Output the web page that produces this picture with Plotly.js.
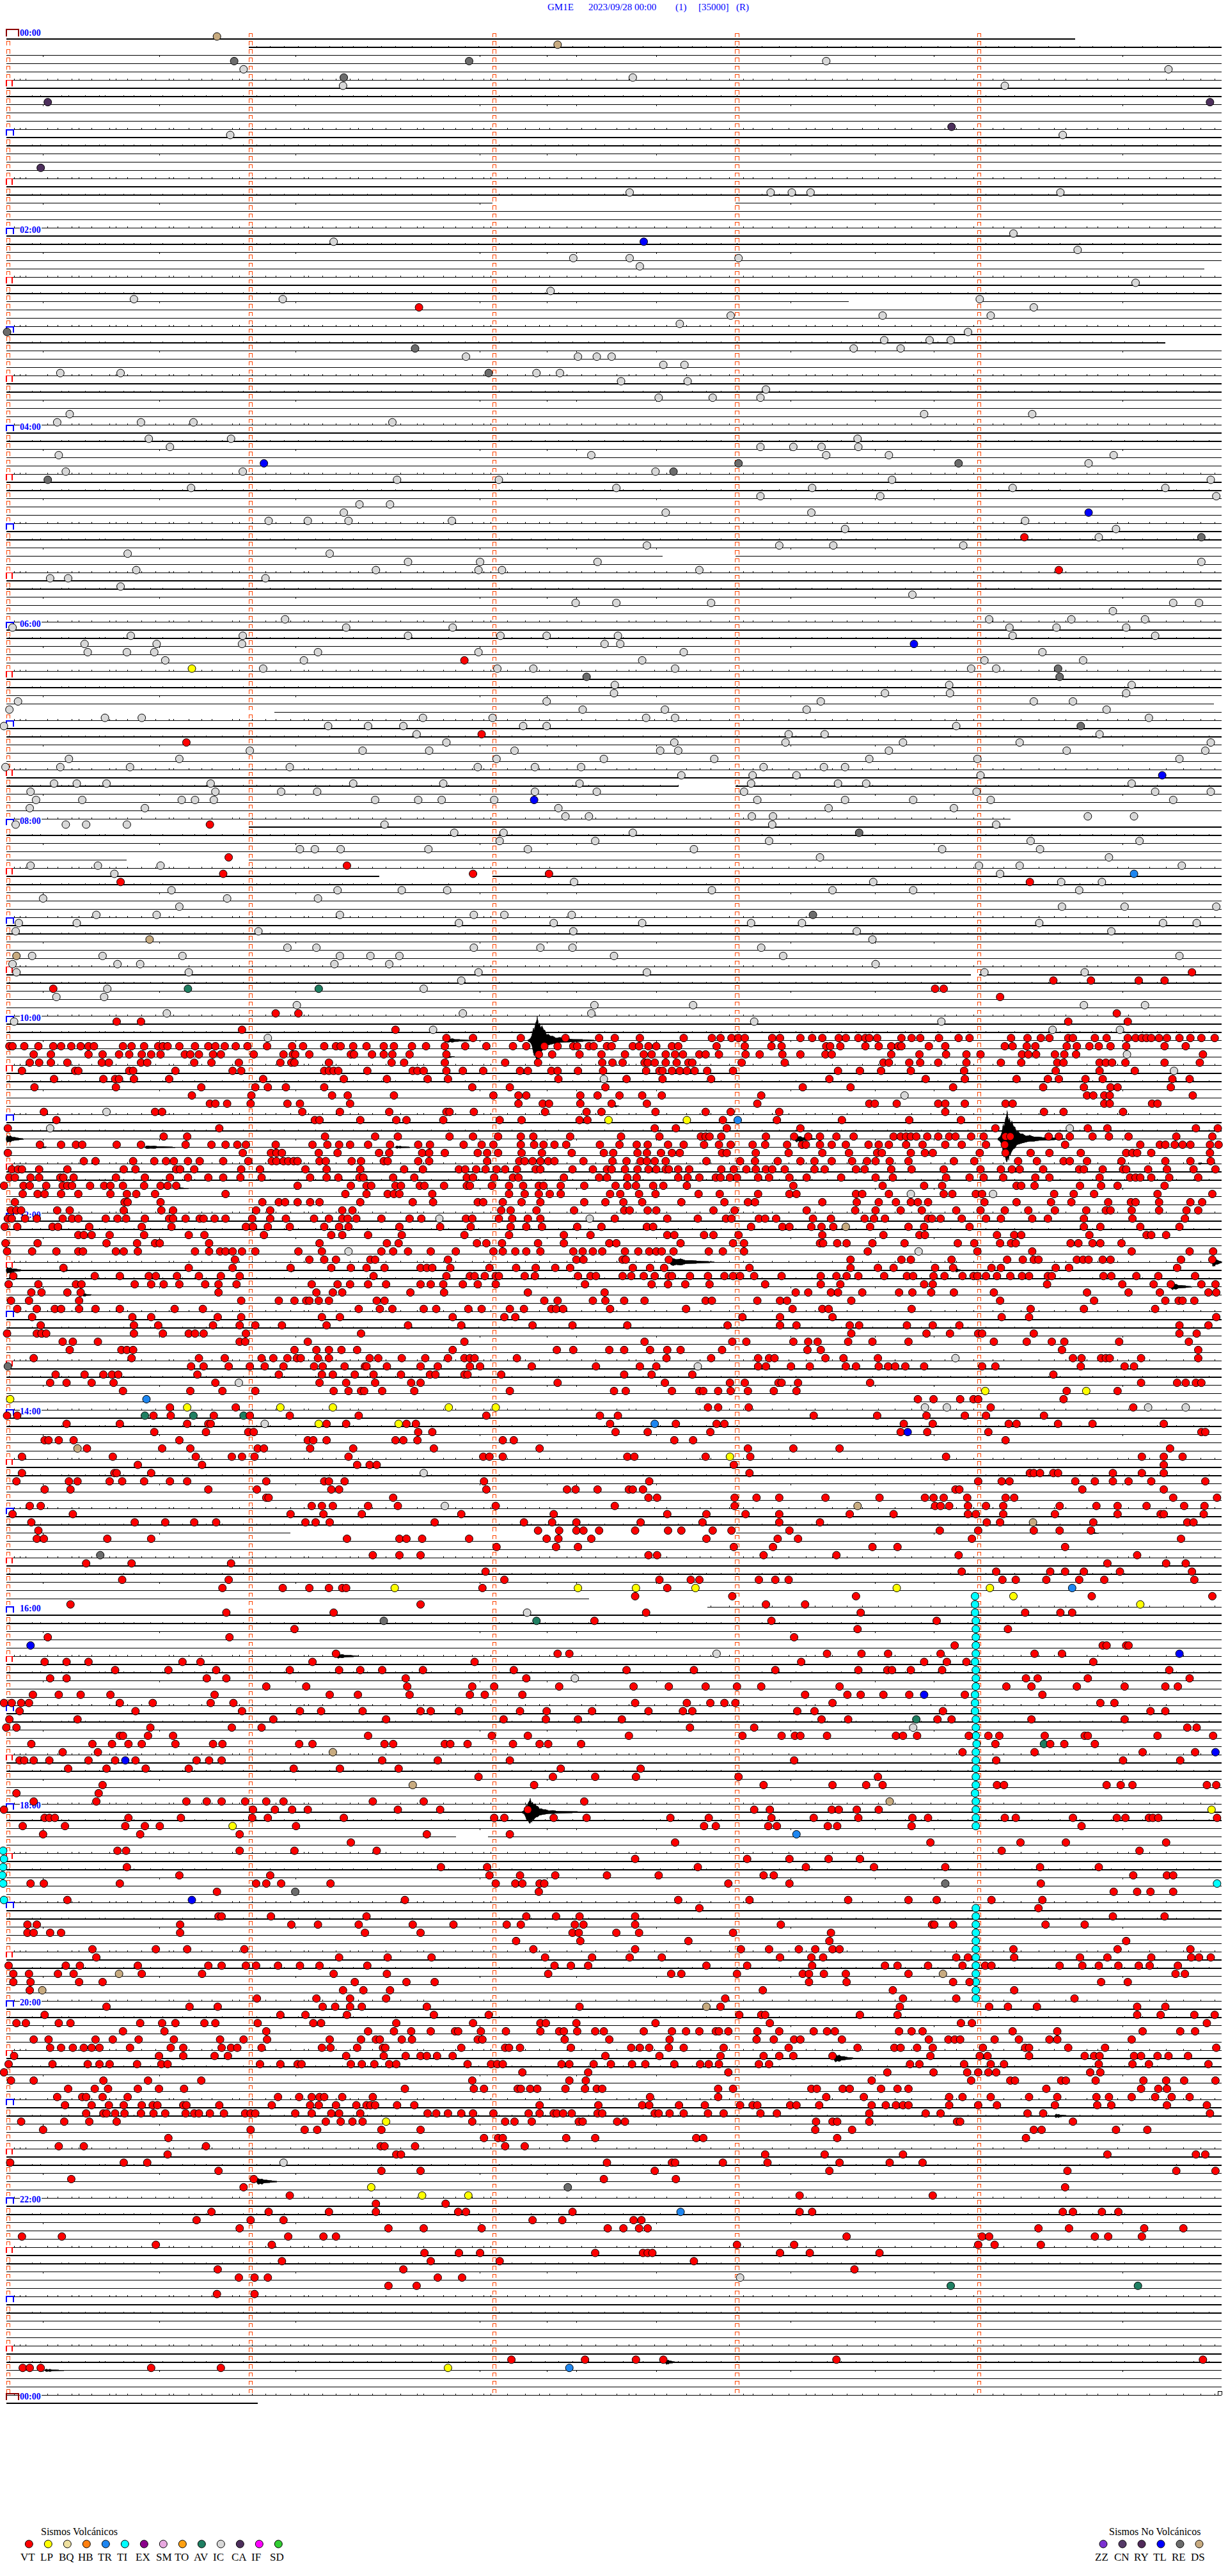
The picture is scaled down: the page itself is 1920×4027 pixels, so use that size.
<!DOCTYPE html>
<html><head><meta charset="utf-8">
<script src="https://cdn.plot.ly/plotly-3.0.1.min.js"></script>
<style>html,body{margin:0;padding:0;background:#fff}#c{position:absolute;left:0;top:0;width:1920px;height:4027px}.js-line{shape-rendering:crispEdges}</style>
</head><body><div id="c"></div><script>
// Each event table row: [trace row (5 min per row), position along the row...]; position unit: 310 = 1 minute
const VT_events=[[33,535],[61,1308],[65,1352],[76,593],[85,615],[86,238],[96,268],[100,292],[101,443],[102,285,604,701],[103,154,1315],[114,1522],[115,1345,1393,1454,1487],[116,68,1194,1205],[117,1277],[119,352,381,1426],[120,149,180,1364,1440],[121,309,505],
[122,570,604,665,722,765,785,817,873,909,920,934,943,951,986,996,1022,1037,1050,1071,1080,1096,1105,1110,1120,1151,1164,1175,1199,1224,1238,1291,1312,1329,1340,1364,1370,1398,1413,1440,1450,1458,1464,1470,1480,1490,1506,1520,1534,1551],
[123,12,16,31,49,68,78,91,103,113,120,157,168,184,202,208,214,229,249,266,275,287,301,316,341,373,387,414,429,435,451,468,490,503,526,544,568,594,621,655,672,695,712,732,737,752,758,775,781,808,816,828,838,858,866,915,951,985,998,1055,1060,1073,1105,1122,1138,1147,1151,1186,1207,1283,1293,1311,1322,1362,1375,1391,1403,1418,1438,1487,1514],
[124,43,65,113,131,152,165,181,193,205,236,243,254,272,282,324,362,374,377,395,448,452,475,490,501,523,570,688,705,740,768,798,822,832,850,862,872,893,901,918,952,970,999,1022,1054,1062,1138,1174,1208,1234,1252,1305,1313,1323,1347,1359,1374,1536],
[125,38,50,65,86,130,139,180,188,248,270,305,358,372,376,420,500,516,568,645,687,769,782,795,823,827,836,850,864,879,884,947,1002,1128,1135,1161,1175,1198,1234,1278,1304,1350,1358,1404,1412,1420,1437,1487,1532],
[126,28,96,100,165,170,224,297,308,414,420,426,432,469,527,533,541,570,591,617,664,674,704,712,738,770,825,842,846,858,868,877,887,903,936,1070,1098,1125,1163,1231,1348,1404,1449],
[127,69,132,147,152,171,216,336,439,494,546,572,713,800,846,908,1059,1182,1232,1298,1338,1352,1386,1408,1497,1519],
[128,44,148,257,326,342,365,414,603,651,773,1025,1086,1217,1332,1384,1418,1427,1495],
[129,245,321,424,444,503,630,662,672,741,763,791,820,845,972,1388,1396,1410,1417,1523],
[130,268,275,290,320,367,383,447,662,693,701,741,781,826,967,1110,1117,1145,1198,1207,1232,1284,1293,1410,1417,1471,1478],
[131,56,198,207,386,434,497,570,574,605,696,749,768,837,901,933,995,1207,1333,1358,1434],
[132,72,402,408,460,506,519,566,638,666,740,750,923,992,1075,1161,1227],
[133,10,280,836,863,928,1022,1271,1389,1414,1527,1555],
[134,209,239,415,479,508,574,604,636,665,681,728,793,842,895,901,906,921,978,1014,1032,1047,1068,1090,1141,1150,1157,1163,1170,1184,1198,1212,1220,1240,1256,1284,1290,1339,1352,1366,1395,1416,1441,1502,1548],
[135,51,78,97,105,149,180,237,270,288,303,314,352,399,418,433,447,470,498,534,549,592,615,630,665,682,694,708,723,766,791,813,827,853,873,899,918,933,961,977,1005,1024,1029,1047,1062,1080,1109,1122,1135,1157,1178,1207,1228,1259,1283,1360,1456,1481,1488,1500,1510,1520,1545,1556],
[136,10,310,346,353,360,407,431,484,497,539,548,568,610,622,636,666,692,730,771,783,814,826,844,858,868,922,928,965,1007,1050,1084,1120,1126,1163,1181,1191,1251,1284,1316,1340,1380,1438,1446,1452,1470,1545],
[137,107,122,170,197,212,222,240,255,285,317,347,353,362,368,375,380,408,416,449,461,490,495,534,548,622,663,670,680,690,700,708,745,782,800,818,826,836,850,902,945,964,993,1022,1040,1062,1088,1107,1118,1136,1160,1218,1244,1300,1324,1358,1366,1388,1432,1488,1520,1546],
[138,15,23,28,50,86,158,173,225,230,248,308,332,390,417,460,516,540,586,594,608,620,634,645,660,684,690,731,757,775,781,798,814,828,838,850,854,866,880,921,937,953,965,978,986,1002,1040,1053,1093,1104,1138,1164,1205,1252,1278,1292,1302,1332,1378,1384,1408,1434,1438,1466,1490,1524,1552],
[139,12,19,39,50,77,81,94,148,185,217,240,266,285,307,334,396,417,432,459,464,502,529,596,604,631,655,662,720,765,775,801,813,866,878,893,914,920,932,941,968,982,1008,1030,1074,1118,1140,1208,1238,1256,1281,1322,1340,1404,1443,1450,1456,1470,1493,1530],
[140,5,30,38,59,80,86,92,115,133,141,157,184,205,214,225,380,448,468,474,505,512,536,542,567,596,600,628,650,668,688,694,716,746,786,801,812,834,847,877,1013,1127,1180,1203,1298,1304,1321,1379,1406,1427,1487],
[141,29,48,57,78,100,141,162,174,198,288,441,468,495,503,510,552,650,670,688,702,716,779,792,816,837,892,919,968,1008,1017,1093,1101,1135,1205,1216,1246,1254,1346,1371,1397,1478,1548],
[142,19,159,163,205,335,356,364,380,396,408,460,527,553,610,617,642,666,690,746,773,796,820,870,925,955,964,1050,1094,1122,1144,1163,1172,1185,1257,1298,1342,1368,1415,1444,1450,1480,1520,1535],
[143,14,21,27,73,89,158,206,221,327,345,437,450,640,652,685,733,797,804,827,838,911,938,1030,1092,1118,1150,1177,1221,1252,1283,1313,1347,1387,1412,1418,1445,1480,1515,1530],
[144,10,15,32,47,80,92,100,135,150,161,185,216,221,237,255,260,274,288,322,345,365,401,420,437,444,455,487,523,538,595,603,637,654,674,690,785,852,891,927,934,969,977,991,1038,1061,1104,1116,1130,1185,1190,1201,1228,1259,1278,1318,1338,1384,1446,1513],
[145,6,22,67,74,114,181,219,314,323,342,370,414,433,445,510,562,601,652,672,692,737,768,826,834,959,999,1008,1036,1049,1064,1111,1160,1180,1238,1384,1405,1456,1506],
[146,100,107,117,140,184,241,261,337,423,437,470,513,593,650,720,754,852,861,899,911,943,1050,1128,1174,1181,1273,1295,1304,1391,1464,1470,1489],
[147,7,48,136,175,198,204,267,408,494,509,609,621,641,687,720,778,787,869,936,950,1047,1051,1069,1081,1114,1155,1223,1244,1277,1291,1297,1367,1377,1395,1405,1432],
[148,9,41,72,100,106,148,158,176,249,267,281,288,297,309,326,381,411,487,502,521,550,582,630,642,658,672,690,732,744,757,769,798,815,829,838,845,860,905,923,950,1108,1248,1318,1445,1519,1549],
[149,300,395,414,429,473,479,572,736,745,795,799,854,1086,1151,1163,1215,1286,1306,1320,1326,1375,1383,1390,1408,1418,1508,1548],
[150,81,241,297,371,423,448,468,491,537,545,552,575,625,659,684,709,728,808,830,848,957,1086,1121,1141,1194,1217,1266,1278,1348,1365,1503],
[151,17,121,153,190,199,226,254,282,306,477,570,600,606,619,633,637,670,683,738,754,761,795,806,822,836,854,858,881,904,925,936,945,963,998,1048,1068,1081,1096,1129,1158,1166,1192,1206,1229,1243,1248,1259,1273,1290,1305,1314,1338,1343,1409,1419,1451,1479,1526],
[152,11,49,97,104,172,193,209,229,262,279,302,398,431,447,470,493,537,550,566,591,610,633,747,832,853,875,906,977,1048,1073,1180,1191,1337,1433,1473,1495,1534,1552],
[153,40,53,86,103,279,404,425,437,524,567,674,772,1016,1032,1061,1070,1101,1148,1165,1189,1218,1269,1388,1441,1481,1543,1553],
[154,14,37,101,308,356,376,391,395,407,420,481,491,695,712,757,773,797,823,901,909,967,996,1005,1087,1277,1397,1488,1505,1510,1525],
[155,22,47,70,78,101,122,153,223,259,458,485,501,541,557,598,615,651,669,704,710,719,779,876,1012,1050,1058,1164,1316,1384,1475],
[156,41,169,193,278,308,411,434,578,644,658,948,996,1063,1279,1314,1553],
[157,52,171,202,272,306,326,360,417,521,589,680,731,801,929,996,1017,1085,1097,1158,1191,1225,1506,1543],
[158,9,47,53,59,171,208,241,249,260,314,461,1087,1183,1213,1249,1254,1320,1506,1528],
[159,80,93,125,306,313,393,593,823,935,953,1013,1032,1044,1083,1114,1160,1269,1311,1343,1359,1429,1518],
[160,89,155,162,170,376,404,420,436,456,578,711,732,778,797,830,852,869,922,1031,1048,1356,1530],
[161,43,168,254,287,334,349,367,379,384,406,420,472,483,513,543,572,593,600,606,660,851,908,968,982,989,1054,1077,1121,1370,1381,1406,1412,1417,1457,1530],
[162,244,260,292,319,338,362,401,412,440,466,468,494,537,559,600,613,679,761,817,838,968,978,1010,1034,1080,1093,1122,1134,1143,1156,1180,1254,1271,1380,1436,1448],
[163,71,108,132,143,151,252,356,411,425,453,477,512,549,556,593,597,640,797,832,884,1345],
[164,64,85,117,145,275,408,442,479,525,537,712,849,932,951,994,998,1019,1111,1457,1503,1514,1527,1534],
[165,157,243,284,326,426,445,461,465,488,529,651,784,799,858,893,898,917,933,955,988,1017,1362,1427],
[166,1172,1192,1226,1243,1249,1358],
[167,217,301,904,917,956,1265,1447],
[168,9,22,196,218,273,319,370,458,621,766,789,1039,1120,1183,1232,1259,1333],
[169,85,153,239,266,269,417,442,519,531,779,863,915,925,1154,1191,1288,1298,1351,1395,1486],
[170,197,263,317,324,534,552,786,827,907,1150,1184,1262,1534,1539],
[171,57,62,75,94,229,393,400,417,505,515,533,642,656,861,885,1284],
[172,111,207,243,329,337,396,451,554,689,955,1013,1072,1494],
[173,28,144,250,296,309,325,445,617,625,642,801,810,901,958,1208,1458,1486,1510],
[174,176,258,456,472,481,937,1486],
[175,28,146,149,193,957,1315,1320,1328,1345,1351,1421,1458,1486],
[176,21,88,99,140,156,184,217,239,340,414,420,440,618,829,1249,1279,1289,1373,1398,1421,1441,1470,1539],
[177,57,90,266,328,423,433,621,724,735,763,803,808,821,1220,1225,1382,1486],
[178,340,343,502,828,839,938,966,995,1054,1123,1181,1192,1205,1235,1284,1295,1498,1554],
[179,38,52,398,411,425,470,508,633,785,938,1194,1201,1212,1236,1259,1281,1353,1400,1427,1464,1512,1538],
[180,16,93,371,413,462,589,707,852,902,952,995,1085,1141,1236,1246,1281,1347,1427,1482,1486,1537],
[181,40,172,211,248,276,390,403,421,555,669,705,736,818,897,995,1047,1260,1277,1396,1516,1524],
[182,49,687,714,736,745,765,811,853,870,910,934,1008,1200,1249,1320,1353,1393],
[183,47,56,137,193,443,510,519,539,599,698,713,755,902,993,1019,1241,1508],
[184,634,710,738,937,987,1114,1146,1360],
[185,476,510,537,828,839,975,1068,1224,1452],
[186,110,168,295,1414,1489,1514],
[187,620,1228,1272,1341,1360,1384,1430,1522],
[188,156,292,644,842,882,893,969,990,1007,1280,1297,1336,1378,1410,1525],
[189,284,361,395,420,437,442,616,852],
[190,811,935,1093,1394,1548],
[191,90,537,978,1028],
[192,289,426,825,1099,1309,1354,1369],
[193,759,985,1196],
[194,376,1095,1287],
[195,61,293,1014],
[196,1219,1408,1413,1438,1441],
[197,429,712,727,1056,1100,1134,1201,1321,1356],
[198,57,85,113,233,256,399,606,1023,1180,1209,1234,1396],
[199,147,215,276,370,433,460,488,540,656,800,886,990,1096,1133,1139,1163,1203,1493],
[200,64,85,264,289,518,672,1310,1325,1389,1519],
[201,340,391,520,603,631,714,809,854,901,941,972,1072,1285,1317,1375,1436,1488,1504],
[202,42,75,103,141,274,421,457,523,600,619,667,1028,1082,1099,1128,1161,1232,1331],
[203,5,15,27,37,153,195,269,298,811,877,907,925,939,1063,1405,1423],
[204,25,173,309,383,410,463,537,550,586,664,698,756,828,872,884,1018,1040,1204,1469,1488],
[205,12,99,349,493,643,697,738,794,1049,1083,1197,1215,1317,1436],
[206,8,21,192,296,334,881,963,1516,1528],
[207,153,157,189,221,470,628,674,803,948,998,1015,1022,1056,1144,1153,1171,1237,1262,1276,1334,1385,1389,1478,1549],
[208,40,118,143,164,181,224,272,284,382,399,491,502,568,575,597,655,689,700,742,1271,1341,1359,1398],
[209,80,125,1229,1321,1459,1526],
[210,25,31,43,63,113,147,173,251,267,283,488,559,651,1014,1272,1434,1507],
[211,87,136,186,241,375,434,509,716,818],
[212,611,706,760,812,943,1121],
[213,131,682,975,1063,1106,1127,1273,1282,1413,1431,1446,1541,1553],
[214,21,126],
[215,43,123,238,264,283,313,340,362,476,541,746],
[216,5,323,351,373,393,508,562,674,963,983,1062,1071,1094,1122],
[217,57,63,70,164,231,322,342,439,631,644,707,749,856,905,985,1039,1096,1165,1185,1283,1297,1370,1426,1437,1467,1472,1479,1554],
[218,29,83,160,185,204,378,899,914,981,992,1057,1069,1164,1381],
[219,55,179,306,545,651],
[220,448,862,1188,1303,1361,1489],
[221,150,161,306,376,481,1279,1455],
[222,811,954,1008,1058,1098],
[223,162,563,622,891,1029,1116,1207,1328,1403],
[224,229,345,625,664,709,775,841,975,988,1447,1490,1498],
[225,39,56,153,327,340,359,422,633,658,667,689,695,930,1008,1329],
[226,277,688,1422,1452,1469,1498],
[227,86,517,866,957,1083,1160,1196,1266,1331],
[228,893,1326],
[229,279,283,346,468,672,710,740,811,1421,1487],
[230,35,47,230,372,406,458,527,579,647,665,734,745,811,997,1190,1193,1217,1335,1385],
[231,35,43,64,78,230,466,537,731,739,787,816,936,1061],
[232,659,741,879,1059,1438],
[233,118,199,239,312,681,811,946,982,1020,1041,1063,1072,1294,1427,1520],
[234,123,433,495,551,696,756,804,845,996,1036,1051,1221,1236,1295,1379,1414,1470,1521,1531,1546],
[235,11,84,102,176,266,283,314,327,355,383,408,469,708,729,751,902,954,1037,1130,1146,1185,1229,1258,1266,1353,1382,1403,1428,1454,1468,1504],
[236,17,37,74,94,181,258,426,494,700,857,870,941,1025,1033,1052,1080,1160,1501,1513],
[237,17,39,101,131,453,519,555,1033,1081,1217,1238,1406,1440],
[238,38,438,464,498,974,1140,1295],
[239,328,404,447,493,926,1153,1221,1372],
[240,136,242,278,412,428,447,462,545,740,920,1149,1263,1287,1324,1452,1488],
[241,57,358,390,443,554,624,944,972,977,1098,1146,1452,1482,1525,1551],
[242,21,33,75,90,179,207,224,261,275,329,400,410,506,604,690,697,736,837,983,1227,1241,1541],
[243,157,210,340,470,503,525,550,581,585,614,646,690,714,720,737,760,771,822,858,876,893,914,918,930,967,995,1039,1056,1066,1148,1164,1178,1293,1350,1459,1507,1526],
[244,43,62,122,144,177,222,281,311,341,421,461,480,485,513,526,610,616,721,778,855,966,988,1014,1022,1075,1186,1211,1219,1226,1270,1301,1340,1350,1445],
[245,64,78,93,107,117,127,166,218,234,283,295,303,334,411,422,456,489,492,589,645,650,664,729,806,817,829,854,873,924,1007,1095,1142,1150,1171,1191,1255,1309,1314,1364,1411,1553],
[246,18,203,234,274,291,442,490,518,537,545,558,578,773,842,920,975,995,1013,1063,1188,1251,1261,1314,1385,1397,1404,1448,1457,1478,1492,1517],
[247,11,67,112,127,140,175,206,214,332,358,380,385,448,462,478,497,506,597,627,635,642,717,727,758,780,807,824,861,894,905,918,969,982,1162,1174,1231,1265,1282,1403,1446,1467,1543],
[248,5,667,751,930,1133,1192,1235,1249,1262,1272,1392,1405],
[249,14,43,132,189,257,603,727,748,1113,1240,1290,1296,1355,1361,1399,1460,1489,1512,1552],
[250,87,121,138,176,203,235,517,605,618,661,665,677,686,722,747,762,769,917,936,1036,1043,1076,1085,1125,1146,1160,1336,1457,1479,1490],
[251,73,105,110,131,163,355,382,398,408,414,437,476,830,917,1055,1103,1212,1229,1265,1314,1350,1400,1416,1445,1475,1496,1519],
[252,83,117,139,158,181,195,201,234,238,280,347,396,407,429,455,468,473,479,507,529,689,764,820,829,867,900,945,961,967,1009,1017,1046,1113,1131,1144,1153,1160,1212,1249,1273,1347,1401,1419,1490,1541],
[253,110,132,136,147,159,180,196,211,237,248,254,268,286,313,320,326,377,398,423,433,460,546,557,572,589,604,630,675,689,707,711,719,730,763,769,836,841,855,873,904,924,971,992,1110,1182,1201,1312,1332,1545],
[254,27,82,114,149,416,435,450,463,603,645,657,679,739,744,788,798,1042,1063,1069,1110,1222,1226,1370],
[255,55,320,389,405,487,537,1041,1088,1320,1330,1425,1465],
[256,215,618,636,642,723,760,889,898,1069,1310],
[257,75,107,263,486,491,530,645,670],
[258,214,506,512,977,1053,1153,1414,1527,1539],
[259,13,158,188,775,858,862,923,980,1072,1136,1178],
[260,279,487,537,836,1059,1363,1502,1552],
[261,91,324,771,863],
[262,311,1360],
[263,370,1021,1191],
[264,480,569],
[265,270,343,420,480,585,595,731,1021,1037,1357,1370,1407,1428],
[266,251,320,362,680,718,809,819],
[267,306,496,541,615,776,796,816,827,1326,1365,1461,1511],
[268,28,79,368,413,429,1081,1254,1263,1398,1415,1458],
[269,199,347,941,1014,1249,1270,1329],
[270,542,586,613,760,821,827,833,996,1034,1123],
[271,360,550,638,886],
[272,278,515,1091],
[273,305,325,342,559,590],
[274,496,532],
[275,277,325],
[283,653,747,812,847,1068,1536],
[284,29,38,52,193,282]];
const LP_events=[[77,245],[132,777,877],[165,1258,1387],[166,13],[167,239,358,425,573,633],[169,407,509],[173,932],[189,504,738,812,888,1145,1264],[190,1294],[191,1456],[216,1547],[218,297],[254,493],[262,474],[263,539,598],[284,572]];
const TR_events=[[102,1448],[132,942],[166,187],[169,836],[189,1369],[219,1017],[265,869],[284,727]];
const TL_events=[[25,822],[52,337],[58,1390],[74,1167],[90,1484],[93,682],[170,1159],[196,39],[197,1506],[202,1180],[209,1552],[210,160],[227,245]];
const RE_events=[[3,299,599],[5,439],[36,9],[38,530],[41,624],[52,943,1224],[53,860],[54,61],[61,1534],[77,1351],[78,749,1353],[84,1380],[97,1097],[107,1038],[162,10],[185,128],[193,490],[225,1207],[226,377],[262,725]];
const CA_events=[[8,61,1545],[11,1215],[16,52]];
const DS_events=[[0,277],[1,712],[110,191],[112,21],[145,1080],[172,99],[179,1095],[181,1319],[209,425],[213,527],[215,1136],[236,152,1204],[238,54],[240,902]];
const AV_events=[[116,240,407],[168,185,247,311],[193,685],[205,1170],[208,1333],[274,1214,1453]];
const TI_events=[[190,1245],[191,1245],[192,1245],[193,1246],[194,1246],[195,1246],[196,1246],[197,1246],[198,1245],[199,1246],[200,1246],[201,1246],[202,1245],[203,1245],[204,1245],[205,1246],[206,1246],[207,1246],[208,1247],[209,1246],[210,1246],[211,1246],[212,1246],[213,1246],[214,1245],[215,1246],[216,1246],[217,1246],[218,1246],[221,4],[222,5],[223,4],[224,3],[225,4,1554],[227,5],[228,1246],[229,1246],[230,1246],[231,1246],[232,1246],[233,1246],[234,1246],[235,1246],[236,1246],[237,1246],[238,1246],[239,1246]];
const IC_events=[[3,1055],[4,311,1492],[5,808],[6,438,1283],[12,294,1357],[19,804,984,1011,1035,1354],[24,1294],[25,426],[26,1376],[27,732,804,943],[28,817],[30,1450],[31,703],[32,171,361,1251],[33,1320],[34,933,1127,1265],[35,868],[36,1236],[37,1129,1187,1214],[38,1090,1150],[39,595,738,762,781],[40,847,874],[41,77,154,685,715],[42,793,878],[43,978],[44,841,910,971],[46,89,1180,1318],[47,73,180,247,501],
[49,190,295,1095],[50,217,971,1013,1049,1096],[51,75,755,1055,1135,1422],[52,1390],[53,84,310,837],[54,507,637,1139,1546],[55,244,787,1037,1293,1488],[56,971,1124,1553],[57,459,498],[58,439,850,1036],[59,343,393,445,577,1309],[60,1079,1425],[61,1403],[62,826,995,1064,1230],[63,163,421],[64,521,613,763,1534],[65,174,480,611,641,893],[66,64,87,339],[67,154],[68,1165],[69,735,787,908,1498,1531],[70,1421],[71,364,1263,1368,1462],[72,16,442,578,1289,1349,1438],[73,167,310,521,639,698,789,1293,1475],[74,108,200,309,772,792],[75,112,162,197,406,611,873,1331],[76,211,388,820,1257,1383],[77,336,635,681,862,1240,1272],[79,785,1212,1445],[80,784,1130,1213,1438],[81,23,698,1048,1320,1370],[82,12,744,849,1030,1413],[83,134,181,540,629,825,862,1467],[84,5,419,470,515,668,698,1221],[85,532,1007,1053,1404],[86,570,861,1003,1153,1302,1546],[87,319,463,548,657,843,866,1135,1362,1539],[88,88,229,634,771,912,1110,1248,1506],[89,7,77,166,370,610,683,742,975,1052,1079],[90,870,961,1017,1252],[91,69,98,136,269,451,566,740,959,1070,1106,1445],[92,39,275,359,405,683,762,950,1247,1475,1546],[93,46,105,232,249,273,479,534,564,631,967,1079,1166,1265,1498],[94,38,185,713,1058,1218],[95,722,752,960,987,1389,1448],
[96,20,84,110,162,491,986,1272],[97,580,643,808],[98,638,760,982,1316,1455],[99,383,402,435,547,674,886,1203,1328],[100,1047,1416],[101,39,125,205,1250,1302,1509],[102,146,1277],[103,733,1115,1355,1407],[104,219,431,513,571,909,1063,1166,1378],[105,55,290,406],[106,229,1356,1436,1553],[107,123,200,434,605,644,730],[108,24,98,586,707,820,959,1024,1327,1485,1528],[109,20,330,732,1094,1419],[110,1114],[111,367,404,605,690,731,972],[112,41,131,233,434,473,510,784,1000,1506],[113,16,150,179,427,497,1118],[114,21,241,611,826,1257,1385],[115,589],[116,137,541],[117,72,133],[118,379,759,885,1384,1462],[119,213,591,755],[120,18,963,1202],[121,553,1344,1430],[122,342],[124,1439],[126,1499],[127,771],[129,1155],[131,136],[133,64,1366],[141,1163,1268],
[144,561,753],[148,445,1173],[161,1220],[162,891],[164,305],[167,1181,1209,1466,1514],[169,338],[175,541],[179,568],[192,673],[197,915],[200,734],[206,1166],[259,362],[273,945]];

// Rows whose trace is interrupted: [row, [from,to], [from,to]...]; every other row runs the full width
const rowStart=8, rowEnd=1560, lastRow=288;
const partialRows=[[0,[8,1373]],[1,[318,1560]],[20,[8,629],[939,1560]],[28,[8,1538]],[32,[8,1084],[1251,1560]],[37,[8,1488]],[63,[8,846],[939,1560]],[81,[8,1550]],[82,[350,1560]],[91,[8,866],[939,1560]],[95,[8,1290]],[96,[318,1560]],[100,[8,162],[318,1560]],[102,[8,484],[629,1560]],[114,[8,1240],[1250,1560]],[182,[8,371],[940,1560]],[190,[8,752]],[191,[903,1560]],[219,[8,582],[623,1560]],[288,[8,329]]];

// Background noise spikes
const noiseA=[18,26,33,61,74,92,101,117,140,148,163,181,199,216,222,241,258,271,297,306,322,339,352,371,388,394,412,429,447,458,476,493,512,533,541,566,582,603,618,627,648,671,689,702,724,743,761,788,803,812,836,851,877,894,908,931,949,962,986,1007,1029,1041,1063,1082,1101,1122,1143,1164,1189,1207,1221,1243,1268,1282,1304,1327,1346,1361,1388,1402,1427,1441,1468,1489,1511,1533,1551];
const noiseB=[12,41,52,79,88,109,127,134,158,171,192,208,233,249,263,284,311,328,345,363,381,403,421,437,451,469,487,505,526,551,573,594,611,637,654,678,696,713,731,752,772,796,821,843,866,884,902,921,941,973,995,1016,1037,1056,1074,1093,1114,1133,1156,1176,1198,1214,1236,1259,1275,1296,1318,1339,1354,1379,1395,1419,1436,1459,1478,1502,1524,1544];
const noiseC=[22,37,56,69,84,113,122,144,176,187,204,227,238,266,279,302,317,334,358,376,398,416,442,463,481,498,519,538,559,578,599,622,643,661,683,708,735,757,779,792,815,829,858,871,889,915,936,957,978,1002,1021,1048,1069,1088,1108,1127,1149,1171,1193,1229,1252,1263,1291,1311,1333,1349,1371,1392,1413,1433,1452,1473,1496,1518,1539];
const noiseSparse1=[74,96,219,290,315,654,822,1075,1341,1412];
const noiseSparse2=[118,278,520,786,797,827,1241,1387,1428,1503];
const noiseSparse3=[55,204,378,613,699,736,838,1010,1118,1193,1434];

// Main earthquake wave envelope: position, height above and below the trace in screen px
const burstPos=[674,677,679,680,681,682,683,684,685,686,687,688,689,690,691,692,694,696,698,700,703,706,710,715,720,726,732,740,750,760];
const burstUp=[1,3,8,14,20,16,24,28,30,38,30,24,28,22,20,24,17,16,9,10,7,7,4,5,3,3,2,2,1.5,0.5];
const burstDown=[1,3,7,12,18,24,20,26,30,30,24,28,20,22,18,16,13,12,8,7,6,5,4,3,3,2,2,1.5,1,0.5];
// [row, peak position, scale]
const bigBursts=[[122,686,1],[134,1286,1.18],[216,677,0.58]];
// Small wave shape (fraction along, relative height) and occurrences [row, from, to, height px]
const smallAlong=[0,0.03,0.08,0.15,0.25,0.35,0.5,0.65,0.8,1];
const smallHeight=[0.3,0.8,1,0.7,0.9,0.5,0.5,0.3,0.25,0.1];
const smallBursts=[[134,8,30,6],[134,1015,1042,5],[135,50,62,2],[135,185,232,2.5],[135,505,530,2],[124,570,582,2],[130,785,792,1.5],[122,570,602,3.5],[137,1530,1545,1.5],[140,225,245,1.5],[149,855,912,6],[149,1548,1560,8],[150,8,30,5],[150,80,90,3],[150,371,379,3],[150,1220,1230,3],[152,1495,1522,5],[153,106,118,2.5],[197,430,458,3.5],[182,1395,1405,1.5],[246,1065,1092,6],[253,1347,1366,3],[261,328,354,5],[283,850,864,4],[284,57,85,2]];

const minuteCols=[10.6,320,631,941,1250];
const hourLabels=['00:00','02:00','04:00','06:00','08:00','10:00','12:00','14:00','16:00','18:00','20:00','22:00','00:00'];
const legendVolc=['VT','LP','BQ','HB','TR','TI','EX','SM','TO','AV','IC','CA','IF','SD'];
const legendVolcColors=['#ff0000','#ffff00','#eee0a0','#ff8010','#1e86f0','#00ffff','#8b008b','#e8a8e0','#ffa010','#1f7f62','#d8d8d8','#4d2f5c','#ff00ff','#32cd32'];
const legendVolcLabelX=[43,73,104,134,164,191,223,256,284,314,341,374,400,433];
const legendNon=['ZZ','CN','RY','TL','RE','DS'];
const legendNonColors=['#7b30d0','#553a68','#502a5a','#0000ff','#6c6c6c','#c8ab80'];
const legendNonLabelX=[1722,1754,1784,1813,1843,1873];
const headerTexts=[['GM1E',855],['2023/09/28 00:00',919],['(1)',1055],['[35000]',1091],['(R)',1150]];

// Scales (u = 1920 px / 1568)
const W=1920,H=4027,PXU=W/1568,ROWPX=12.8333,TOP=61;
const rowPx=p=>p/ROWPX, uPx=p=>p/PXU;
const py2row=p=>(p-TOP)/ROWPX, px2u=p=>p/PXU;

function eventTrace(events,color,name){
  const x=[],y=[];
  events.forEach(e=>{for(let i=1;i<e.length;i++){x.push(e[i]);y.push(e[0]-rowPx(4));}});
  return {type:'scatter',mode:'markers',name,x,y,hoverinfo:'skip',cliponaxis:false,
    marker:{size:12,color,line:{color:'#000',width:1}}};
}
function lineTrace(x,y,color,width){return {type:'scatter',mode:'lines',x,y,hoverinfo:'skip',line:{color,width,simplify:false}};}

const partialMap=new Map(partialRows.map(p=>[p[0],p.slice(1)]));
// The row just above each two-hour mark is left blank behind its time label
function spansOf(r){
  let s=partialMap.get(r)||[[rowStart,rowEnd]];
  if((r+1)%24===0){
    const out=[];
    s.forEach(p=>{if(p[0]<25)out.push([p[0],Math.min(p[1],25)]);if(p[1]>53)out.push([Math.max(p[0],53),p[1]]);});
    s=out;
  }
  return s;
}
const thickX=[],thickY=[],thinX=[],thinY=[];
for(let r=0;r<=lastRow;r++){
  const thick=r%6===0||r%6===1;
  spansOf(r).forEach(s=>{(thick?thickX:thinX).push(s[0],s[1],null);(thick?thickY:thinY).push(r,r,null);});
}
// noise spikes
const nx=[],ny=[];
function inSpan(r,u){return spansOf(r).some(s=>u>=s[0]&&u<=s[1]);}
for(let r=0;r<lastRow;r++){
  const m=r%6;
  let list=null,up=2,down=0;
  if(m===1){list=[noiseA,noiseB,noiseC][r%3];up=2;down=1.5;}
  else if(m===5){list=[noiseB,noiseC,noiseA][r%3];up=2;down=0;}
  else if(m===2){list=[noiseSparse1,noiseSparse2,noiseSparse3][r%3];up=0;down=2;}
  if(!list)continue;
  list.forEach(u=>{if(inSpan(r,u)){nx.push(u,u,null);ny.push(r-rowPx(up),r+rowPx(down),null);}});
}
// minute ticks and hour brackets
const mx=[],my=[],bx=[],by=[],hx=[],hy=[],dx=[],dy=[],ex=[],ey=[];
function nShape(xa,ya,left,right,top,bottom){xa.push(left,left,right,right,null);ya.push(bottom,top,top,bottom,null);}
for(let r=0;r<lastRow;r++){
  minuteCols.forEach((c,i)=>{
    if(i===0&&r%6===0)return;
    nShape(mx,my,c-uPx(2.5),c+uPx(3),r-rowPx(9),r-rowPx(3));
  });
}
for(let r=6;r<lastRow;r+=6){
  if(r%12===0) nShape(bx,by,px2u(10),px2u(21),r-rowPx(12.5),r-rowPx(3.5));
  else nShape(hx,hy,px2u(10),px2u(19),r-rowPx(12.5),r-rowPx(3.5));
}
[0,lastRow].forEach(r=>nShape(dx,dy,px2u(10),px2u(29),r-rowPx(15),r-rowPx(4.5)));
nShape(ex,ey,1555,1560,lastRow-1-rowPx(6),lastRow-1);

// wave polygons
const waves=[];
function poly(xs,ups,downs,r){
  const x=xs.concat(xs.slice().reverse());
  const y=ups.map(a=>r-rowPx(a)).concat(downs.slice().reverse().map(a=>r+rowPx(a)));
  x.push(x[0]);y.push(y[0]);
  waves.push({type:'scatter',mode:'lines',x,y,fill:'toself',fillcolor:'#000',hoverinfo:'skip',line:{color:'#000',width:0.5}});
}
bigBursts.forEach(b=>poly(burstPos.map(p=>p-686+b[1]),burstUp.map(a=>a*b[2]),burstDown.map(a=>a*b[2]),b[0]));
smallBursts.forEach(b=>poly(smallAlong.map(f=>b[1]+f*(b[2]-b[1])),smallHeight.map(a=>a*b[3]),smallHeight.map(a=>a*b[3]*0.9),b[0]));

// time labels sit under the event markers
const hourTrace={type:'scatter',mode:'text',x:hourLabels.map(()=>px2u(31)),y:hourLabels.map((t,i)=>24*i-rowPx(9)),
  text:hourLabels.map(t=>'<b>'+t+'</b>'),textposition:'middle right',hoverinfo:'skip',cliponaxis:false,
  textfont:{family:'"Liberation Serif",serif',size:14,color:'#0000ff'}};

// legend dots
const legX=[],legC=[];
legendVolcColors.forEach((c,i)=>{legX.push(px2u(45.3+30*i));legC.push(c);});
legendNonColors.forEach((c,i)=>{legX.push(px2u(1725+30*i));legC.push(c);});
const legendTrace={type:'scatter',mode:'markers',x:legX,y:legX.map(()=>py2row(3977)),hoverinfo:'skip',
  marker:{size:12,color:legC,line:{color:'#000',width:1}}};

const data=[
  lineTrace(thinX,thinY,'#000',1),lineTrace(thickX,thickY,'#000',2),lineTrace(nx,ny,'#000',1),
  lineTrace(mx,my,'#ff4500',1),lineTrace(bx,by,'#0000ff',2),lineTrace(hx,hy,'#ff0000',1.5),lineTrace(dx,dy,'#8b0000',2),lineTrace(ex,ey,'#000',1),
  hourTrace,...waves,
  eventTrace(IC_events,'#d8d8d8','IC'),eventTrace(RE_events,'#6c6c6c','RE'),eventTrace(CA_events,'#4d2f5c','CA'),
  eventTrace(DS_events,'#c8ab80','DS'),eventTrace(AV_events,'#1f7f62','AV'),eventTrace(TI_events,'#00ffff','TI'),
  eventTrace(VT_events,'#ff0000','VT'),eventTrace(LP_events,'#ffff00','LP'),eventTrace(TR_events,'#1e86f0','TR'),
  eventTrace(TL_events,'#0000ff','TL'),legendTrace
];
function ann(text,pxX,pxY,anchor,size,color){
  return {text,xref:'paper',yref:'paper',x:pxX/W,y:1-pxY/H,xanchor:anchor,yanchor:'middle',showarrow:false,
    font:{family:'"Liberation Serif",serif',size,color},borderpad:0};
}
const annotations=[];
headerTexts.forEach(t=>annotations.push(ann(t[0],t[1],11,'left',15,'#0000ff')));
annotations.push(ann('Sismos Volcánicos',63,3957,'left',16,'#000'));
annotations.push(ann('Sismos No Volcánicos',1733,3957,'left',16,'#000'));
legendVolc.forEach((t,i)=>annotations.push(ann(t,legendVolcLabelX[i],3997,'center',17,'#000')));
legendNon.forEach((t,i)=>annotations.push(ann(t,legendNonLabelX[i],3997,'center',17,'#000')));

Plotly.newPlot('c',data,{
  width:W,height:H,margin:{l:0,r:0,t:0,b:0,pad:0},showlegend:false,paper_bgcolor:'#fff',plot_bgcolor:'#fff',
  xaxis:{range:[0,1568],visible:false,fixedrange:true},
  yaxis:{range:[py2row(H),py2row(0)],visible:false,fixedrange:true},
  annotations
},{staticPlot:true,displayModeBar:false});
</script></body></html>
